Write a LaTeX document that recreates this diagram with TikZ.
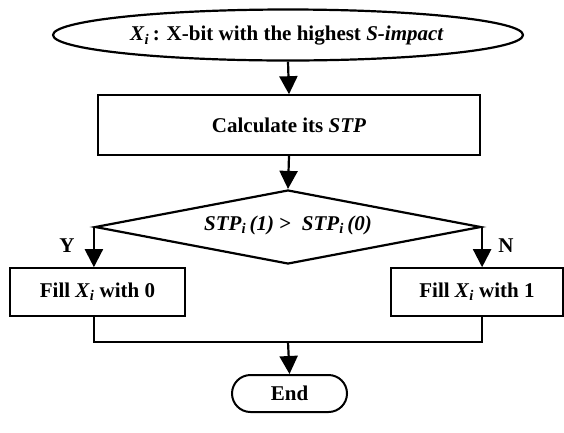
\documentclass[tikz,border=0pt]{standalone}
\usepackage{fontspec}
\setmainfont{Liberation Serif}
\usetikzlibrary{shapes.geometric,shapes.misc,arrows.meta}
\begin{document}
\begin{tikzpicture}[x=1pt,y=-1pt,
  every node/.style={font=\fontsize{21}{25}\selectfont\bfseries},
  line/.style={line width=2.2pt},
  arr/.style={line width=2.2pt,-{Triangle[length=18pt,width=18pt]}},
  box/.style={draw,line width=1.6pt,rectangle,inner sep=0pt},
  lbl/.style={inner sep=0pt}]
\useasboundingbox (0,0) rectangle (564,432);
\node[draw,ellipse,line width=2.2pt,minimum width=470pt,minimum height=51pt,inner sep=0pt] (start) at (288,35) {};
\node[lbl] (starttxt) at (287,36) {\textit{X}\textsubscript{\textit{i}}\,: X-bit with the highest \textit{S-impact}};
\node[box,minimum width=382pt,minimum height=60pt] (calc) at (289,125) {Calculate its \textit{STP}};
\node[draw,diamond,line width=2.2pt,minimum width=386pt,minimum height=74pt,aspect=5.2,inner sep=0pt] (dec) at (288,227) {};
\node[lbl] (dectxt) at (288,225) {\textit{STP}\textsubscript{\textit{i}}\,\textit{(1)} \textgreater{}\ \ \textit{STP}\textsubscript{\textit{i}}\,\textit{(0)}};
\node[box,minimum width=175pt,minimum height=48pt] (f0) at (97.5,292) {Fill \textit{X}\textsubscript{\textit{i}} with 0};
\node[box,minimum width=172pt,minimum height=48pt] (f1) at (477,292) {Fill \textit{X}\textsubscript{\textit{i}} with 1};
\node[draw,rounded rectangle,line width=2pt,minimum width=115pt,minimum height=37pt,inner sep=0pt] (end) at (289.5,393.5) {End};
\node[lbl] (y) at (67,246) {Y};
\node[lbl] (n) at (506,246) {N};
\coordinate (m) at (288,342);
\draw[arr] (start.south) -- (calc.north);
\draw[arr] (calc.south) -- (dec.north);
\draw[arr] (dec.west) -- (dec.west |- f0.north);
\draw[arr] (dec.east) -- (dec.east |- f1.north);
\draw[line] (dec.west |- f0.south) -- (dec.west |- m) -- (dec.east |- m) -- (dec.east |- f1.south);
\draw[arr] (m) -- (end.north);
\end{tikzpicture}
\end{document}
